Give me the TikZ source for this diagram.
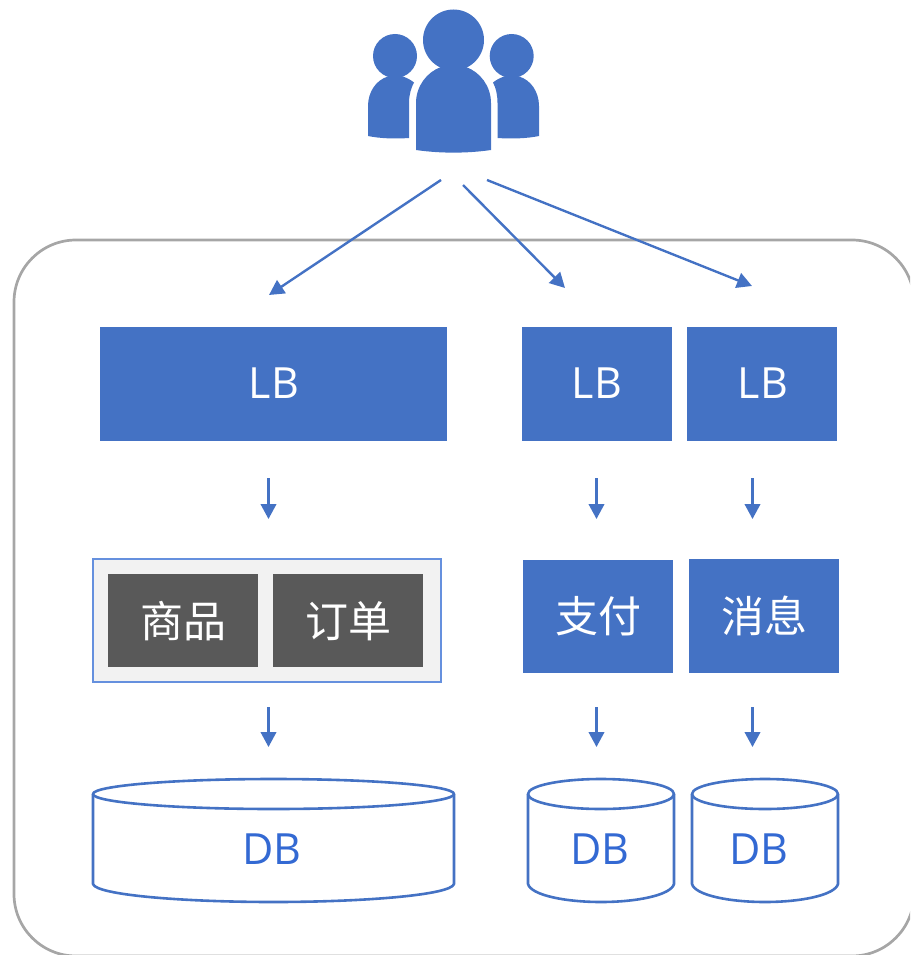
\documentclass[tikz,border=0pt]{standalone}
\usepackage{fontspec}
\setmainfont{Open Sans}
\newfontfamily\cjkfont{Noto Sans CJK SC}
\usetikzlibrary{arrows.meta}
\definecolor{bl}{HTML}{4472C4}
\definecolor{dbtxt}{HTML}{3369D3}
\definecolor{grp}{HTML}{6590DE}
\definecolor{dk}{HTML}{595959}
\definecolor{pane}{HTML}{F2F2F2}
\definecolor{outer}{HTML}{A6A6A6}
\tikzset{
  bluebox/.style={fill=bl,text=white,font=\fontsize{43}{47}\selectfont\cjkfont},
  lbtext/.style={text=white,font=\fontsize{43}{47}\selectfont},
  svcbox/.style={fill=dk},
  svctext/.style={text=white,font=\fontsize{43}{47}\selectfont\cjkfont},
  dbtext/.style={text=dbtxt,font=\fontsize{43}{47}\selectfont},
  flow/.style={draw=bl,line width=2.4pt,-{Triangle[length=15pt,width=15.5pt]}},
  dbline/.style={draw=bl,line width=2.6pt,fill=white,line join=round},
  person/.style={fill=bl,draw=none},
}
\newcommand{\dbcyl}[2]{% x1, x2
  \pgfmathsetmacro{\xm}{(#1+#2)/2}
  \pgfmathsetmacro{\xa}{#1+(#2-#1)*0.25}
  \pgfmathsetmacro{\xb}{#2-(#2-#1)*0.25}
  \pgfmathsetmacro{\xc}{#1+3}
  \pgfmathsetmacro{\xd}{#2-3}
  \pgfmathsetmacro{\rx}{(#2-#1)/2}
  \path[dbline] (#1,794) -- (#1,884)
    .. controls (\xc,895) and (\xa,902) .. (\xm,902)
    .. controls (\xb,902) and (\xd,895) .. (#2,884)
    -- (#2,794);
  \path[dbline] (\xm,794) ellipse ({\rx} and 15);
}
\begin{document}
\begin{tikzpicture}[x=1pt,y=-1pt]
\useasboundingbox (0,0) rectangle (910,955);
\begin{scope}
\clip (0,0) rectangle (910,955);
\draw[outer,line width=2.7pt,rounded corners=62pt] (14,240) rectangle (914,956);
\end{scope}

% people
\fill[person] (395,56) circle (22);
\fill[person] (511.7,56) circle (22);
\fill[person] (368,136) -- (368,106)
  .. controls (368,92) and (376,80) .. (388,76.5) -- (403,76.5)
  .. controls (407,78) and (411,80) .. (414,82.5)
  .. controls (411,88) and (409,95) .. (409,103)
  -- (409,138) .. controls (395,139) and (380,138.5) .. (368,136) -- cycle;
\fill[person] (539,136) -- (539,106)
  .. controls (539,92) and (531,80) .. (519,76.5) -- (504,76.5)
  .. controls (500,78) and (496,80) .. (493,82.5)
  .. controls (496,88) and (497.5,95) .. (497.5,103)
  -- (497.5,138) .. controls (512,139) and (527,138.5) .. (539,136) -- cycle;
\fill[person] (453.5,40) circle (30.5);
\fill[person] (416,150) -- (416,103)
  .. controls (416,86) and (427,72) .. (441,67) -- (466,67)
  .. controls (480,72) and (491,86) .. (491,103)
  -- (491,150) .. controls (467,153.5) and (440,153.5) .. (416,150) -- cycle;

% load balancers
\node[fill=bl,minimum width=347pt,minimum height=114pt,inner sep=0pt] (lb1) at (273.5,384) {};
\node[fill=bl,minimum width=150pt,minimum height=114pt,inner sep=0pt] (lb2) at (597,384) {};
\node[fill=bl,minimum width=150pt,minimum height=114pt,inner sep=0pt] (lb3) at (762,384) {};
\node[lbtext] (lb1t) at (274,383) {LB};
\node[lbtext] (lb2t) at (597,383) {LB};
\node[lbtext] (lb3t) at (763,383) {LB};

% services
\node[fill=pane,draw=grp,line width=2.7pt,minimum width=348pt,minimum height=123pt,inner sep=0pt] (grp) at (267,620.5) {};
\node[svcbox,minimum width=150pt,minimum height=93pt,inner sep=0pt] (sp) at (183,620.5) {};
\node[svcbox,minimum width=150pt,minimum height=93pt,inner sep=0pt] (dd) at (348,620.5) {};
\node[svctext] (spt) at (183,621) {商品};
\node[svctext] (ddt) at (348,621) {订单};
\node[bluebox,minimum width=150pt,minimum height=113pt,inner sep=0pt] (pay) at (598,616.5) {支付};
\node[bluebox,minimum width=150pt,minimum height=114pt,inner sep=0pt] (msg) at (764,616) {消息};

% databases
\dbcyl{93}{454}
\dbcyl{528}{674}
\dbcyl{692}{838}
\node[dbtext] (db1) at (272,849) {DB};
\node[dbtext] (db2) at (600,849) {DB};
\node[dbtext] (db3) at (759,849) {DB};

% connector ends
\coordinate (ua) at (441,180);
\coordinate (ub) at (463,185);
\coordinate (uc) at (487,180);
\coordinate (ta) at (269,295);
\coordinate (tb) at (565,288);
\coordinate (tc) at (752,286);
\coordinate (a1) at (268.5,478); \coordinate (a2) at (268.5,519);
\coordinate (b1) at (596.5,478); \coordinate (b2) at (596.5,519);
\coordinate (c1) at (752.5,478); \coordinate (c2) at (752.5,519);
\coordinate (d1) at (268.5,707); \coordinate (d2) at (268.5,747);
\coordinate (e1) at (596.5,707); \coordinate (e2) at (596.5,747);
\coordinate (f1) at (752.5,707); \coordinate (f2) at (752.5,747);
\foreach \s/\t in {ua/ta,ub/tb,uc/tc,a1/a2,b1/b2,c1/c2,d1/d2,e1/e2,f1/f2}
  \draw[flow] (\s) -- (\t);
\end{tikzpicture}
\end{document}
